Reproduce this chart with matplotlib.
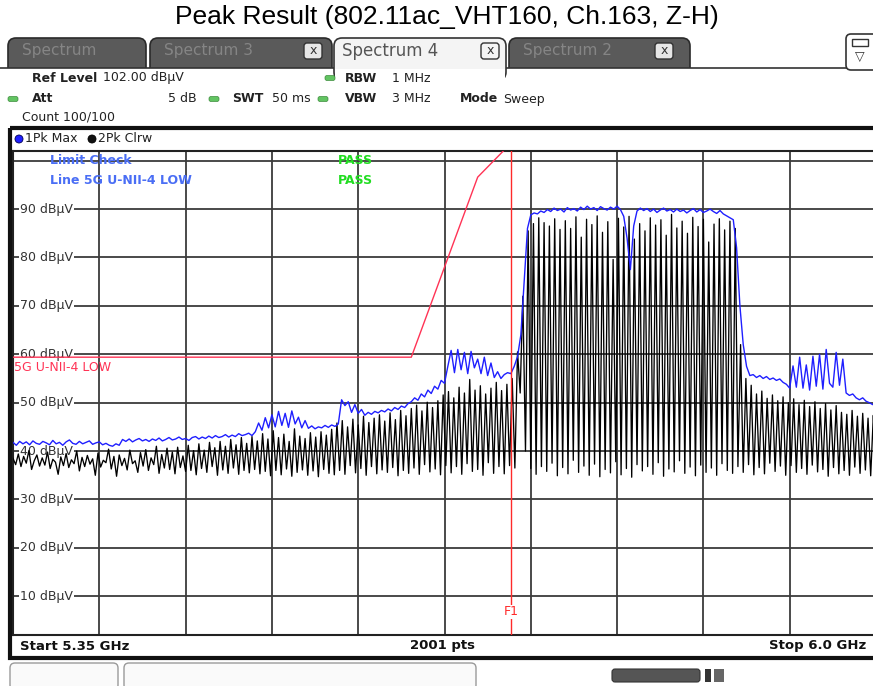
import numpy as np
import matplotlib.pyplot as plt
from matplotlib.patches import FancyBboxPatch, Rectangle, Circle

W, H = 873, 686

# eje de frecuencia y nivel del analizador
f_start, f_stop = 5.35, 6.0
ref_level = 102.0
db_bottom = 2.0
y_ticks = [10, 20, 30, 40, 50, 60, 70, 80, 90, 100]
y_labels = [10, 20, 30, 40, 50, 60, 70, 80, 90]

max_hold = [
    41.8, 41.2, 42.0, 41.5, 41.9, 41.3, 42.1, 41.6, 41.4, 42.0,
    41.7, 41.3, 42.2, 41.5, 41.8, 41.2, 41.9, 42.3, 41.6, 41.4,
    42.0, 41.5, 41.8, 42.1, 41.4, 41.7, 41.9, 41.3, 41.6, 41.2,
    41.0, 41.5, 41.2, 42.4, 42.0, 42.5, 41.9, 42.3, 42.6, 42.1,
    42.4, 42.0, 42.5, 42.2, 42.7, 42.1, 42.4, 42.8, 42.3, 42.5,
    42.9, 42.4, 42.6, 42.2, 42.8, 43.0, 42.5, 42.9, 42.6, 43.1,
    42.7, 43.2, 42.8, 43.0, 43.4, 42.9, 43.3, 43.0, 43.6, 43.2,
    43.4, 43.7, 43.2, 44.0, 45.8, 44.3, 46.9, 44.8, 47.5, 45.0,
    48.2, 45.3, 47.8, 44.9, 48.3, 45.6, 47.0, 44.8, 46.3, 44.7,
    45.2, 44.6, 45.0, 44.8, 45.3, 44.9, 45.4, 45.1, 45.6, 50.6,
    49.4, 50.2, 48.0, 49.6, 47.8, 48.6, 47.4, 48.0, 47.6, 48.2,
    47.9, 48.4, 48.1, 48.7, 48.3, 49.0, 48.6, 49.3, 49.0, 49.8,
    50.2, 51.0, 50.5, 51.8, 51.2, 52.6, 51.9, 53.4, 52.8, 54.6,
    54.0, 57.5, 60.8, 56.2, 61.0, 56.8, 60.4, 56.0, 60.6, 57.2,
    59.0, 56.0, 59.4, 55.6, 58.2, 55.2, 56.4, 55.0, 55.8, 56.2,
    56.0, 57.5, 59.5, 64.0, 75.0, 86.0, 88.8, 89.2, 89.0, 89.6,
    89.3, 89.9, 89.5, 90.2, 89.7, 90.0, 89.4, 90.3, 89.8, 90.1,
    89.6, 90.4, 89.9, 90.6, 90.0, 90.3, 89.7, 90.5, 90.1, 89.8,
    90.4, 90.0, 90.6, 89.9, 88.5, 84.0, 77.5, 86.5, 89.6, 90.2,
    89.7, 90.1, 89.5, 90.0, 89.3, 89.8, 90.2, 89.6, 89.9, 89.4,
    90.0, 89.5, 89.8, 89.2, 89.7, 90.1, 89.4, 89.9, 89.3, 89.6,
    90.0, 89.5, 89.1, 89.7, 89.0, 88.6, 88.2, 87.8, 82.0, 70.0,
    62.0, 57.5, 55.6, 55.8, 55.2, 55.6, 55.0, 55.4, 54.8, 55.1,
    54.6, 54.9, 54.2, 53.8, 53.0, 57.6, 53.2, 59.4, 53.0, 57.8,
    52.6, 59.6, 53.4, 60.0, 52.8, 61.0, 54.0, 53.2, 60.4, 53.6,
    59.0, 52.0, 51.5, 51.8, 51.0, 50.6, 51.0, 50.3, 50.0, 49.6, 49.8,
]

# traza 2: Pk Clrw (negra)
clear_write = [
    38.5, 37.2, 39.4, 36.8, 38.9, 37.5, 40.1, 36.2, 38.0, 39.2,
    36.9, 38.6, 37.1, 39.8, 36.4, 38.3, 37.7, 35.2, 38.8, 37.0,
    39.5, 36.6, 38.2, 37.4, 40.0, 35.9, 38.7, 36.8, 39.1, 37.3,
    38.4, 35.0, 39.6, 36.7, 38.1, 37.6, 40.4, 36.3, 38.9, 34.8,
    39.2, 37.0, 38.5, 36.1, 40.2, 37.4, 38.0, 35.6, 39.7, 36.9,
    40.3, 36.0, 38.6, 37.2, 41.0, 35.4, 39.3, 36.5, 40.6, 36.2,
    39.8, 35.3, 40.8, 36.6, 39.0, 35.8, 41.2, 36.0, 40.1, 35.1,
    41.5, 36.4, 40.2, 35.6, 41.8, 36.8, 40.7, 35.0, 42.0, 36.1,
    41.0, 35.4, 42.4, 36.5, 41.3, 35.2, 42.8, 36.0, 41.6, 35.5,
    43.0, 36.2, 42.1, 35.3, 43.6, 35.8, 42.5, 34.9, 44.2, 36.0,
    42.8, 35.1, 43.5, 36.3, 42.0, 34.8, 44.6, 35.6, 43.1, 36.1,
    42.6, 35.0, 43.8, 35.9, 42.9, 34.7, 44.0, 36.2, 43.3, 35.4,
    44.5, 35.1, 45.8, 36.0, 46.3, 35.2, 45.0, 37.0, 46.6, 35.5,
    45.4, 36.4, 47.2, 35.0, 45.9, 36.8, 46.8, 35.3, 47.5, 36.1,
    46.2, 35.6, 47.9, 36.6, 46.5, 34.9, 48.4, 36.0, 47.3, 35.4,
    48.8, 36.5, 49.5, 35.2, 48.3, 37.2, 50.1, 35.7, 49.0, 36.3,
    50.4, 35.1, 51.6, 37.0, 52.3, 35.5, 51.0, 36.8, 53.2, 35.2,
    52.0, 37.4, 54.8, 35.8, 52.6, 36.2, 53.5, 35.0, 51.8, 37.6,
    53.0, 35.4, 54.2, 36.8, 52.5, 35.3, 53.8, 37.0, 55.0, 36.5,
    60.5, 52.0, 72.0, 40.0, 85.5, 36.4, 87.0, 35.2, 88.2, 36.8,
    87.2, 35.8, 86.5, 37.5, 88.0, 34.9, 85.8, 36.6, 87.6, 35.3,
    86.0, 38.1, 88.4, 35.6, 84.2, 36.9, 87.9, 35.0, 86.8, 37.3,
    88.6, 34.7, 85.2, 36.2, 87.4, 35.5, 79.6, 37.8, 88.1, 35.1,
    86.3, 36.4, 88.5, 34.6, 83.8, 37.2, 87.0, 35.9, 85.5, 36.8,
    88.2, 35.2, 86.7, 37.6, 87.8, 34.8, 84.6, 36.3, 88.9, 35.7,
    86.1, 38.0, 87.5, 35.4, 85.0, 36.7, 88.3, 34.9, 86.4, 37.1,
    87.9, 35.6, 83.2, 36.5, 86.9, 35.0, 88.0, 37.4, 85.7, 36.0,
    87.5, 35.4, 86.0, 36.8, 62.0, 35.6, 55.0, 37.2, 53.6, 35.1,
    51.8, 36.6, 52.4, 35.3, 50.9, 37.5, 51.6, 35.8, 50.4, 36.9,
    51.2, 35.0, 50.0, 37.0, 50.8, 35.6, 49.6, 36.4, 50.5, 35.2,
    49.2, 37.1, 50.2, 35.7, 48.8, 36.2, 49.8, 34.8, 48.5, 36.6,
    49.4, 35.3, 48.0, 36.0, 47.6, 35.0, 48.4, 36.7, 47.2, 35.4,
    47.8, 36.1, 46.8, 34.9, 47.4, 35.8,
]

# linea limite 5G U-NII-4 LOW y marcador F1
limit_freq = [5.35, 5.65, 5.70, 5.72, 5.725]
limit_db = [59.4, 59.4, 96.6, 102.2, 113.6]
f1_freq = 5.725

fig = plt.figure(figsize=(W / 100, H / 100), dpi=100)
fig.patch.set_facecolor('white')

# --- zona de la grafica ---
ax = fig.add_axes([13 / W, 1 - 635 / H, 863 / W, 484 / H])
ax.set_zorder(1)
ax.set_xlim(f_start, f_stop)
ax.set_ylim(db_bottom, ref_level)
ax.set_xticks([f_start + 0.065 * k for k in range(11)])
ax.set_yticks(y_ticks)
ax.tick_params(length=0, labelbottom=False, labelleft=False)
ax.grid(True, color='#3c3c3c', lw=1.3)
for s in ax.spines.values():
    s.set_color('#222222')
    s.set_linewidth(1.5)

for v in y_labels:
    ax.text(f_start + 0.0053, v, f"{v} dBµV", ha='left', va='center', fontsize=9,
            color='#333333', zorder=2,
            bbox=dict(facecolor='white', edgecolor='none', pad=0.6))

freq_max = np.linspace(f_start, f_stop, len(max_hold))
freq_clr = np.linspace(f_start, f_stop, len(clear_write))
ax.plot(freq_clr, clear_write, color='black', lw=0.95, zorder=3)
ax.plot(freq_max, max_hold, color='#1f1fff', lw=1.0, zorder=4)

ax.plot(limit_freq, limit_db, color='#ff3355', lw=1.0, zorder=5)
ax.text(f_start + 0.0008, 57.2, "5G U-NII-4 LOW", color='#ff3355', fontsize=9,
        ha='left', va='center', zorder=5)
ax.axvline(f1_freq, color='#ff2a2a', lw=1.0, zorder=5)
ax.text(f1_freq, 6.8, "F1", color='#ff2a2a', fontsize=9, ha='center', va='center',
        zorder=6, bbox=dict(facecolor='white', edgecolor='none', pad=0.3))

# --- capa de la interfaz (coordenadas en pixeles) ---
ov = fig.add_axes([0, 0, 1, 1])
ov.set_zorder(2)
ov.set_xlim(0, W)
ov.set_ylim(H, 0)
ov.axis('off')


def caja(x0, y0, x1, y1, fc, ec, r=6, lw=1.0, z=1):
    ov.add_patch(FancyBboxPatch((x0, y0), x1 - x0, y1 - y0,
                                boxstyle=f"round,pad=0,rounding_size={r}",
                                fc=fc, ec=ec, lw=lw, zorder=z))


def punto_verde(x, y):
    caja(x, y - 2.5, x + 10, y + 2.5, '#62c462', '#3c8c3c', r=2, lw=0.5, z=5)


fig.text(447 / W, 1 - 17 / H, "Peak Result (802.11ac_VHT160, Ch.163, Z-H)",
         ha='center', va='center', fontsize=19, family='Liberation Sans', color='black')

# pestañas
tabs = [(8, 146, "Spectrum", None), (150, 332, "Spectrum 3", 304),
        (509, 690, "Spectrum 2", 655)]
for x0, x1, nombre, xc in tabs:
    caja(x0, 38, x1, 80, '#5a5a5a', '#2a2a2a', r=8, lw=1.2, z=1)
    ov.text(x0 + 14, 51, nombre, fontsize=11, color='#858585', va='center', zorder=3)
    if xc:
        caja(xc, 43, xc + 18, 59, '#e6e6e6', '#333333', r=3, lw=1.0, z=3)
        ov.text(xc + 9, 51, "x", fontsize=9, ha='center', va='center', color='#333333', zorder=4)

ov.add_patch(Rectangle((0, 68), W, 60, fc='white', ec='none', zorder=2))
ov.plot([0, W], [68, 68], color='#333333', lw=1.2, zorder=2.5)
caja(334, 38, 506, 80, '#f4f4f4', '#333333', r=8, lw=1.2, z=3)
ov.add_patch(Rectangle((335, 68.5), 170, 12, fc='white', ec='none', zorder=3.5))
ov.text(342, 51, "Spectrum 4", fontsize=12, color='#555555', va='center', zorder=4)
caja(481, 43, 499, 59, '#f4f4f4', '#333333', r=3, lw=1.0, z=4)
ov.text(490, 51, "x", fontsize=9, ha='center', va='center', color='#333333', zorder=5)

caja(846, 34, 880, 70, 'white', '#333333', r=5, lw=1.2, z=3)
ov.add_patch(Rectangle((852, 39), 16, 7, fc='white', ec='#333333', lw=1.0, zorder=4))
ov.text(860, 57, "▽", fontsize=9, ha='center', va='center', color='#333333', zorder=4)

# cabecera de ajustes
hdr = dict(fontsize=9, va='center', color='#222222', zorder=5)
ov.text(32, 78, "Ref Level", fontweight='bold', **hdr)
ov.text(103, 78, "102.00 dBµV", **hdr)
punto_verde(325, 78)
ov.text(345, 78, "RBW", fontweight='bold', **hdr)
ov.text(392, 78, "1 MHz", **hdr)
punto_verde(8, 99)
ov.text(32, 99, "Att", fontweight='bold', **hdr)
ov.text(197, 99, "5 dB", ha='right', **hdr)
punto_verde(209, 99)
ov.text(232, 99, "SWT", fontweight='bold', **hdr)
ov.text(272, 99, "50 ms", **hdr)
punto_verde(318, 99)
ov.text(345, 99, "VBW", fontweight='bold', **hdr)
ov.text(392, 99, "3 MHz", **hdr)
ov.text(460, 99, "Mode", fontweight='bold', **hdr)
ov.text(503, 99, "Sweep", **hdr)
ov.text(22, 117, "Count 100/100", **hdr)

# marco de la grafica
ov.add_patch(Rectangle((10, 128), 880, 530, fill=False, ec='#111111', lw=3, zorder=6))
ov.add_patch(Circle((19, 139), 4, fc='#1f1fff', ec='#000055', lw=0.6, zorder=6))
ov.text(25, 139, "1Pk Max", fontsize=9, va='center', color='#222222', zorder=6)
ov.add_patch(Circle((92, 139), 4, fc='#111111', ec='#000000', lw=0.6, zorder=6))
ov.text(98, 139, "2Pk Clrw", fontsize=9, va='center', color='#222222', zorder=6)

ov.text(50, 160, "Limit Check", fontsize=9, fontweight='bold', color='#4a6ef5', va='center', zorder=6)
ov.text(50, 180, "Line 5G U-NII-4 LOW", fontsize=9, fontweight='bold', color='#4a6ef5', va='center', zorder=6)
ov.text(338, 160, "PASS", fontsize=9, fontweight='bold', color='#22dd22', va='center', zorder=6)
ov.text(338, 180, "PASS", fontsize=9, fontweight='bold', color='#22dd22', va='center', zorder=6)

# pie
ov.text(20, 646, "Start 5.35 GHz", fontsize=9.5, fontweight='bold', va='center', color='#111111', zorder=6)
ov.text(442, 646, "2001 pts", fontsize=9.5, fontweight='bold', va='center', ha='center', color='#111111', zorder=6)
ov.text(866, 646, "Stop 6.0 GHz", fontsize=9.5, fontweight='bold', va='center', ha='right', color='#111111', zorder=6)

# barra de estado inferior
caja(10, 663, 118, 690, '#fafafa', '#9a9a9a', r=5, lw=1.0, z=2)
caja(124, 663, 476, 690, '#fafafa', '#9a9a9a', r=5, lw=1.0, z=2)
caja(612, 669, 700, 682, '#555555', '#333333', r=3, lw=0.8, z=2)
ov.add_patch(Rectangle((705, 669), 6, 13, fc='#333333', ec='none', zorder=2))
ov.add_patch(Rectangle((714, 669), 10, 13, fc='#666666', ec='none', zorder=2))

fig.savefig("out.png", dpi=100)
